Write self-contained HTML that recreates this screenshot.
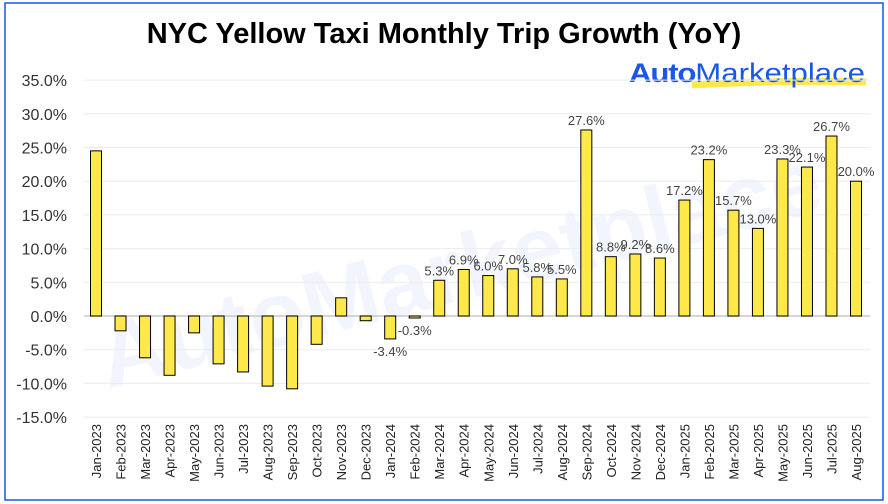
<!DOCTYPE html>
<html><head><meta charset="utf-8"><style>
body{margin:0;background:#fff;}
svg{display:block;font-family:"Liberation Sans",sans-serif;}
</style></head><body>
<svg id="chart" width="888" height="504">
<rect x="5" y="3" width="878" height="497" fill="#fff" stroke="#1a56e8" stroke-width="1.5"/>
<text x="444" y="43" text-anchor="middle" font-size="29" font-weight="bold" fill="#000">NYC Yellow Taxi Monthly Trip Growth (YoY)</text>
<text x="460" y="300" text-anchor="middle" font-size="92" font-weight="bold" fill="#1a56e8" opacity="0.05" transform="rotate(-14 460 270)">AutoMarketplace</text>
<path d="M692 85 Q780 80 866 82" stroke="#ffe94a" stroke-width="7" fill="none"/>
<text x="629" y="82" font-size="27" fill="#1a56e8" textLength="236" lengthAdjust="spacingAndGlyphs"><tspan font-weight="bold" letter-spacing="-1">Auto</tspan><tspan>Marketplace</tspan></text>
<g id="grid"></g><g id="bars"></g><g id="labels"></g>
</svg>
<script>
const categories=["Jan-2023","Feb-2023","Mar-2023","Apr-2023","May-2023","Jun-2023","Jul-2023","Aug-2023","Sep-2023","Oct-2023","Nov-2023","Dec-2023","Jan-2024","Feb-2024","Mar-2024","Apr-2024","May-2024","Jun-2024","Jul-2024","Aug-2024","Sep-2024","Oct-2024","Nov-2024","Dec-2024","Jan-2025","Feb-2025","Mar-2025","Apr-2025","May-2025","Jun-2025","Jul-2025","Aug-2025"];
const values=[24.5,-2.2,-6.2,-8.8,-2.5,-7.1,-8.3,-10.4,-10.8,-4.2,2.7,-0.7,-3.4,-0.3,5.3,6.9,6.0,7.0,5.8,5.5,27.6,8.8,9.2,8.6,17.2,23.2,15.7,13.0,23.3,22.1,26.7,20.0];
const showLabel=[false,false,false,false,false,false,false,false,false,false,false,false,true,true,true,true,true,true,true,true,true,true,true,true,true,true,true,true,true,true,true,true];
const yTicks=[35,30,25,20,15,10,5,0,-5,-10,-15];
const NS="http://www.w3.org/2000/svg";
const left=84,right=870;
const y=v=>316-(v)*6.74;
function mk(t,a,p){const e=document.createElementNS(NS,t);for(const k in a)e.setAttribute(k,a[k]);p.appendChild(e);return e;}
const grid=document.getElementById('grid'),bars=document.getElementById('bars'),labels=document.getElementById('labels');
yTicks.forEach(t=>{
  const l=mk('line',{x1:left,x2:right,y1:y(t),y2:y(t),stroke:t===0?'#c8c8c8':'#ececec','stroke-width':t===0?1.5:1},grid);
  
  
  const tx=mk('text',{x:67,y:y(t)+6,'text-anchor':'end','font-size':16,fill:'#333'},grid);
  tx.textContent=t.toFixed(1)+'%';
  
  
});
const step=(856-96)/(categories.length-1);
categories.forEach((c,i)=>{
  const cx=96+i*step,v=values[i];
  const r=mk('rect',{x:cx-5.5,y:Math.min(y(v),y(0)),width:11,height:Math.abs(y(v)-y(0)),fill:'#ffe94a',stroke:'#000','stroke-width':1},bars);
  
  
  const xl=mk('text',{x:0,y:0,'text-anchor':'end','font-size':13,fill:'#222',transform:`translate(${cx+5},424) rotate(-90)`},labels);
  xl.textContent=c;
  
  
  if(showLabel[i]){
    const ly=v>=0?y(v)-5:y(v)+17;
    const t=mk('text',{x:cx,y:ly,'text-anchor':'middle','font-size':13,fill:'#444'},labels);
    t.textContent=v.toFixed(1)+'%';
    
    
  }
});
</script>
</body></html>
